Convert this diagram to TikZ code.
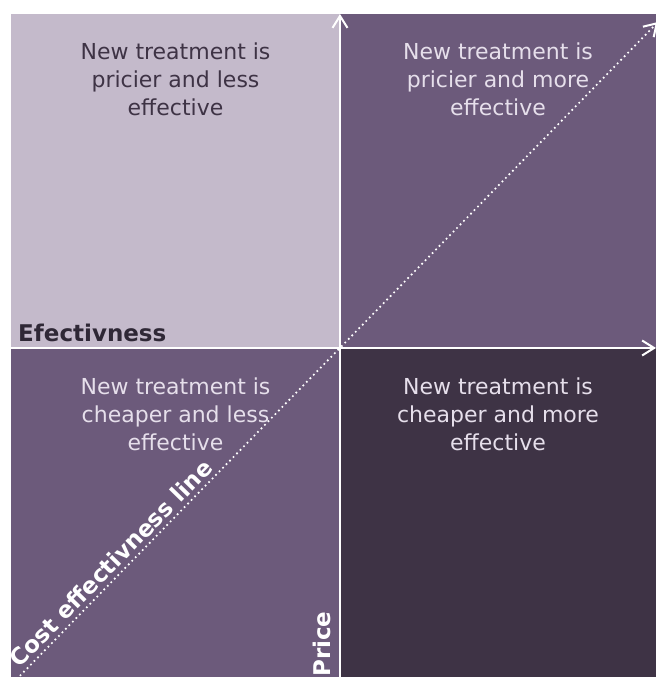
\documentclass[tikz,border=0pt]{standalone}
\usepackage{fontspec}
\setmainfont{DejaVu Sans}
\usetikzlibrary{arrows.meta}
\definecolor{quadlight}{HTML}{C4BACB}
\definecolor{quadmid}{HTML}{6C5A7B}
\definecolor{quaddark}{HTML}{3E3345}
\definecolor{inkdark}{HTML}{3E3345}
\definecolor{inklabel}{HTML}{2F2836}
\definecolor{inklight}{HTML}{E6DFEB}
\begin{document}
\begin{tikzpicture}[x=1bp,y=-1bp,
  blurb/.style={align=center, inner sep=0pt, anchor=north,
    font=\fontsize{22bp}{28bp}\selectfont},
  axislabel/.style={inner sep=0pt, font=\bfseries\fontsize{23bp}{26bp}\selectfont},
  axisline/.style={draw=white, line width=2bp,
    -{Straight Barb[length=12bp,width=15bp]}},
  celine/.style={draw=white, line width=2.4bp, line cap=round,
    dash pattern=on 0bp off 5bp,
    -{Straight Barb[length=12bp,width=15bp,line width=2bp]}}
]
\useasboundingbox (0,0) rectangle (656,677);
\clip (0,0) rectangle (656,677);

% quadrants
\fill[quadlight] (11,14) rectangle (340,348);
\fill[quadmid]   (340,14) rectangle (656,348);
\fill[quadmid]   (11,348) rectangle (340,677);
\fill[quaddark]  (340,348) rectangle (656,677);

% quadrant descriptions
\node[blurb, text=inkdark]  (tl) at (175.5,42.5) {New treatment is\\pricier and less\\effective};
\node[blurb, text=inklight] (tr) at (498,42.5)   {New treatment is\\pricier and more\\effective};
\node[blurb, text=inklight] (bl) at (175.5,377.5) {New treatment is\\cheaper and less\\effective};
\node[blurb, text=inklight] (br) at (498,377.5)  {New treatment is\\cheaper and more\\effective};

% axes
\coordinate (ybase)  at (340,677);
\coordinate (ytip)   at (340,14);
\coordinate (xbase)  at (11,348);
\coordinate (xtip)   at (656,348);
\draw[axisline] (ybase) -- (ytip);
\draw[axisline] (xbase) -- (xtip);

% cost effectiveness diagonal
\coordinate (cebase) at (10,686);
\coordinate (cetip)  at (658,22);
\draw[celine] (cebase) -- (cetip);

% axis labels
\node[axislabel, text=inklabel, anchor=base west] (effl) at (18,341) {Efectivness};
\node[axislabel, text=white, anchor=base west, rotate=90] (pricel) at (330,677) {Price};
\node[axislabel, text=white, anchor=base, rotate=45.7] (cel) at (117,569) {Cost effectivness line};
\end{tikzpicture}
\end{document}
